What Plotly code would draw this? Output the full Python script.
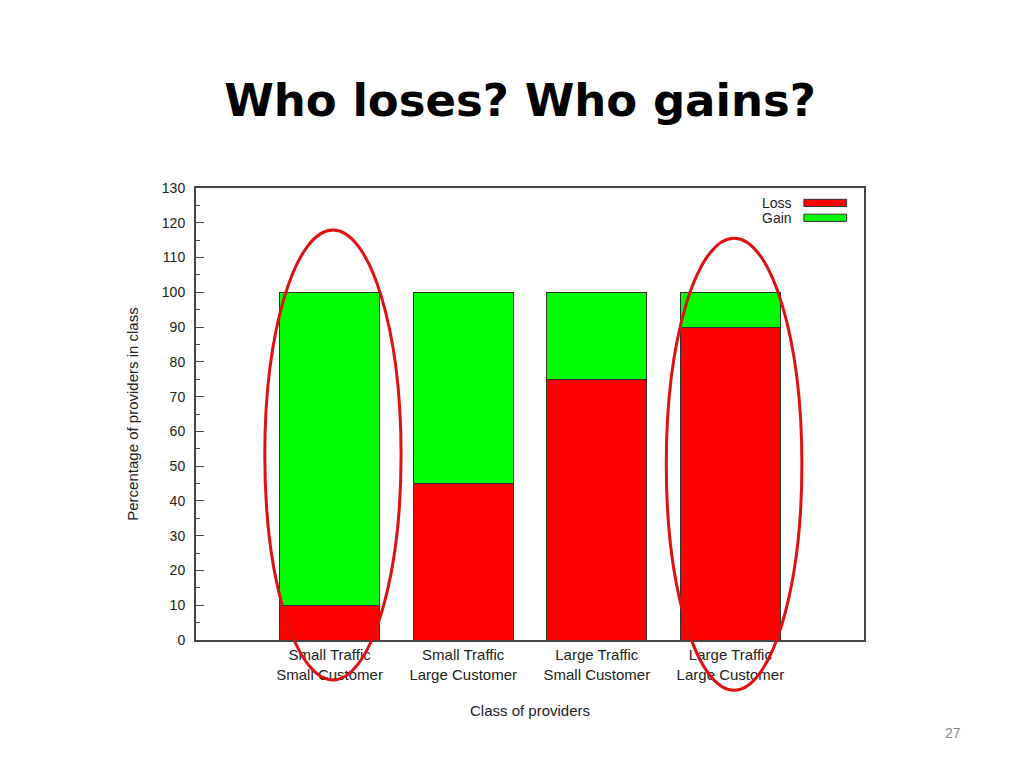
import plotly.graph_objects as go

# data
classes = ["Small Traffic<br>Small Customer", "Small Traffic<br>Large Customer",
           "Large Traffic<br>Small Customer", "Large Traffic<br>Large Customer"]
loss = [10, 45, 75, 90]
gain = [90, 55, 25, 10]
series_names = ["Loss", "Gain"]
series_colors = ["#ff0000", "#00ff00"]
y_ticks = list(range(0, 131, 10))

fig = go.Figure()
for name, vals, col in zip(series_names, [loss, gain], series_colors):
    fig.add_trace(go.Bar(
        x=list(range(len(classes))), y=vals, name=name,
        marker=dict(color=col, line=dict(color="#333333", width=1)),
        width=0.75, showlegend=False,
    ))

# plot box: 668 x 452 px
L, T = 188, 180
fig.update_layout(
    barmode="stack",
    width=1024, height=768,
    margin=dict(l=L, r=1024 - L - 668, t=T, b=768 - T - 452),
    paper_bgcolor="white", plot_bgcolor="white",
    font=dict(family="Liberation Sans, Arial, sans-serif", size=14, color="#222222"),
    title=dict(text="<b>Who loses? Who gains?</b>", x=0.5, xanchor="center",
               y=0.88, yanchor="middle",
               font=dict(family="Comic Sans MS, DejaVu Sans, sans-serif", size=45, color="black")),
)
fig.update_xaxes(
    range=[-1, 4], tickvals=list(range(len(classes))), ticktext=classes,
    tickfont=dict(size=15),
    showgrid=False, zeroline=False, showline=True, mirror=True,
    linecolor="#444444", linewidth=2, ticks="",
    title=dict(text="Class of providers", standoff=24, font=dict(size=15)),
)
fig.update_yaxes(
    range=[0, 130], tickvals=y_ticks, showgrid=False, zeroline=False,
    showline=True, mirror=True, linecolor="#444444", linewidth=2,
    ticks="inside", ticklen=8, tickcolor="#444444", ticklabelstandoff=6,
    minor=dict(dtick=5, ticks="inside", ticklen=4, tickcolor="#444444"),
    title=dict(text="Percentage of providers in class", standoff=20, font=dict(size=15)),
)

# legend drawn gnuplot style: label left, swatch right
for i, (name, col) in enumerate(zip(series_names, series_colors)):
    yp = 0.967 - i * 0.033
    fig.add_annotation(x=0.895, y=yp, xref="paper", yref="paper", text=name,
                       showarrow=False, xanchor="right", yanchor="middle",
                       font=dict(size=14, color="#222222"))
    fig.add_shape(type="rect", xref="paper", yref="paper",
                  x0=0.91, x1=0.974, y0=yp - 0.008, y1=yp + 0.008,
                  fillcolor=col, line=dict(color="#333333", width=1))

# red ellipses highlighting the extreme classes
for x0, x1, y0, y1 in [(0.103, 0.307, -0.0885, 0.907), (0.704, 0.907, -0.111, 0.889)]:
    fig.add_shape(type="circle", xref="paper", yref="paper",
                  x0=x0, x1=x1, y0=y0, y1=y1,
                  line=dict(color="#e01010", width=3), layer="above")

# slide number
fig.add_annotation(x=(955 - L) / 668, y=(T + 452 - 735) / 452, xref="paper", yref="paper",
                   text="27", showarrow=False, font=dict(size=14, color="#888888"))

fig.write_html("out.html")
